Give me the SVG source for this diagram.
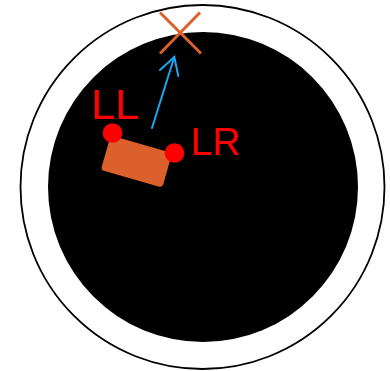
<svg xmlns="http://www.w3.org/2000/svg" width="390" height="371" viewBox="0 0 390 371">
<style>
.lbl{fill:#ff0000;font-family:"Liberation Sans",Arial,sans-serif}
.dot{fill:#ff0000}
.xm{stroke:#dc602b;stroke-width:3;fill:none}
.arr{stroke:#1aa7ee;stroke-width:2;fill:none;stroke-linecap:round}
</style>
<rect width="390" height="371" fill="#ffffff"/>
<g id="outer"><circle cx="202.5" cy="187" r="182" fill="none" stroke="#000" stroke-width="1.8"/></g>
<g id="disk"><circle cx="203" cy="187" r="155" fill="#000"/></g>
<g id="target"><line class="xm" x1="160" y1="12.5" x2="201" y2="53.5"/><line class="xm" x1="200" y1="12.5" x2="160" y2="53.5"/></g>
<g id="body"><rect x="104.5" y="143.5" width="64" height="36" rx="4" fill="#dc602b" transform="rotate(16 136.5 161.5)"/></g>
<g id="LL"><circle class="dot" cx="112.5" cy="133" r="9.8"/><text class="lbl" x="91" y="119" font-size="43">LL</text></g>
<g id="LR"><circle class="dot" cx="174.5" cy="153" r="9.8"/><text class="lbl" x="190.5" y="154.5" font-size="39">LR</text></g>
<g id="connectors"><line class="arr" x1="152" y1="128" x2="174.3" y2="57"/><polyline class="arr" points="160,70 174.3,57 178.3,76"/></g>
</svg>
